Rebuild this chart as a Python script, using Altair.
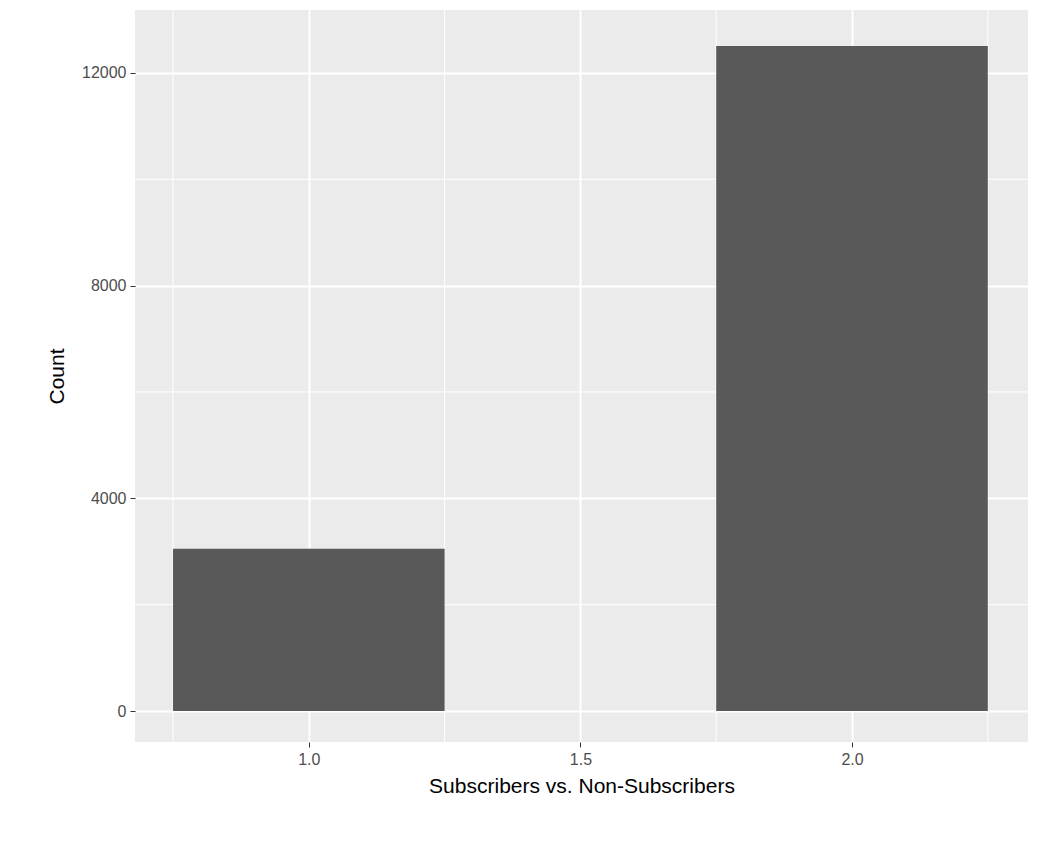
import altair as alt
import pandas as pd

bin_start = [0.75, 1.75]
bin_end = [1.25, 2.25]
counts = [3050, 12505]
minor_x = [0.75, 1.25, 1.75, 2.25]
minor_y = [2000, 6000, 10000]

bars = pd.DataFrame({"x0": bin_start, "x1": bin_end, "n": counts})
xs = alt.Scale(domain=[0.68, 2.324], nice=False, zero=False)
ys = alt.Scale(domain=[-583, 13184], nice=False, zero=False)

vminor = alt.Chart(pd.DataFrame({"x": minor_x})).mark_rule(color="white", strokeWidth=1).encode(
    x=alt.X("x:Q", scale=xs))
hminor = alt.Chart(pd.DataFrame({"y": minor_y})).mark_rule(color="white", strokeWidth=1).encode(
    y=alt.Y("y:Q", scale=ys))

rect = alt.Chart(bars).mark_rect(color="#595959").encode(
    x=alt.X("x0:Q", scale=xs, title="Subscribers vs. Non-Subscribers",
            axis=alt.Axis(values=[1.0, 1.5, 2.0], format=".1f", titlePadding=8)),
    x2="x1:Q",
    y=alt.Y("n:Q", scale=ys, title="Count",
            axis=alt.Axis(values=[0, 4000, 8000, 12000], format="d", titlePadding=14)),
    y2=alt.datum(0),
)

chart = alt.layer(vminor, hminor, rect).properties(
    width=893, height=732, background="white",
    autosize=alt.AutoSizeParams(type="none"),
    padding={"left": 127, "top": 2, "right": 10, "bottom": 80},
).configure_view(fill="#EBEBEB", stroke=None).configure_axis(
    labelFont="Liberation Sans", titleFont="Liberation Sans",
    grid=True, gridColor="white", gridWidth=2, domain=False,
    tickColor="#333333", tickSize=5, labelColor="#4D4D4D", labelFontSize=16,
    titleFontSize=21, titleFontWeight="normal", titleColor="black", labelPadding=4)

chart.save("out.html", embed_options={"renderer": "svg", "actions": False})
